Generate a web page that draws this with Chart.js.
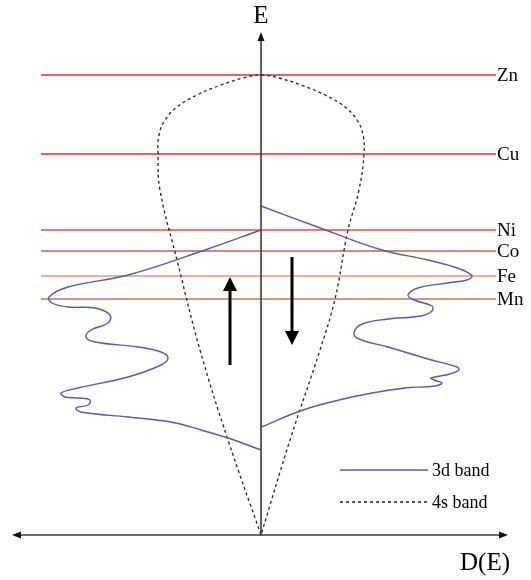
<!DOCTYPE html>
<html>
<head>
<meta charset="utf-8">
<script src="https://cdn.jsdelivr.net/npm/chart.js@4.4.0/dist/chart.umd.min.js"></script>
<style>
  html, body { margin: 0; padding: 0; background: #fff; }
  #dos { display: block; }
</style>
</head>
<body>
<canvas id="dos" width="531" height="580"></canvas>
<script>
//////////////////
// Levels of the transition metals (energy, arbitrary units)

var levelNames = ['Zn', 'Cu', 'Ni', 'Co', 'Fe', 'Mn'];
var levelEnergy = [460, 381, 305, 284, 259, 236];
var levelColors = ['#e06666', '#e06666', '#d0564e', '#b86a50', '#d99c80', '#c27860'];
var levelFrom = -220;
var levelTo = 235;

// 4s band: from the origin up the left side, over the top, back down
var band4sD = [0, -33, -61, -84, -101, -103, -102, -96, -84, -64, -40, -18, 0, 18, 40, 64, 84, 96, 102, 103, 98, 87, 74, 59, 29, 0];
var band4sE = [0, 95, 185, 275, 345, 381, 400, 415, 428, 440, 450, 457, 460, 457, 450, 440, 428, 415, 400, 381, 345, 305, 236, 185, 95, 0];

// 3d band, spin up (left half)
var band3dUpD = [0, -56, -133, -193, -212, -209, -193, -166, -151, -153, -170, -175, -166, -123, -100, -93, -100, -133, -183, -200, -196, -183, -171, -173, -185, -180, -133, -90, -60, -33, 0];
var band3dUpE = [305, 285, 260, 248, 238, 232, 228, 227, 220, 212, 205, 198, 193, 188, 183, 177, 170, 158, 147, 142, 138, 137, 135, 130, 127, 123, 118, 113, 105, 97, 85];

// 3d band, spin down (right half)
var band3dDownD = [0, 62, 121, 167, 199, 211, 206, 186, 157, 147, 153, 171, 171, 160, 127, 101, 93, 98, 127, 167, 196, 198, 189, 170, 173, 181, 174, 144, 111, 78, 42, 0];
var band3dDownE = [329, 306, 285, 275, 266, 259, 255, 252, 247, 240, 235, 229, 224, 219, 216, 211, 202, 196, 188, 176, 168, 165, 161, 157, 155, 152, 149, 147, 142, 135, 125, 108];

// spin arrows: position and energy range (tail -> head)
var spinD = [-31, 31];
var spinFrom = [170, 278];
var spinTo = [258, 190];

var color3d = '#5a5aa8';
var color4s = '#222222';
var serif = '"Liberation Serif", "DejaVu Serif", serif';

function toPoints(ds, es) {
  return ds.map(function (d, i) { return { x: d, y: es[i] }; });
}

var datasets = [
  { label: '3d band', data: toPoints(band3dUpD, band3dUpE), borderColor: color3d, borderWidth: 1.4, tension: 0.4 },
  { label: '3d band', data: toPoints(band3dDownD, band3dDownE), borderColor: color3d, borderWidth: 1.4, tension: 0.4 },
  { label: '4s band', data: toPoints(band4sD, band4sE), borderColor: color4s, borderWidth: 1.3, borderDash: [3, 3], tension: 0.4 }
];
levelNames.forEach(function (name, i) {
  datasets.push({
    label: name,
    data: [{ x: levelFrom, y: levelEnergy[i] }, { x: levelTo, y: levelEnergy[i] }],
    borderColor: levelColors[i],
    borderWidth: i < 2 ? 1.8 : 1.4,
    tension: 0
  });
});
datasets.forEach(function (ds) {
  ds.showLine = true;
  ds.pointRadius = 0;
  ds.fill = false;
});

function arrowHead(ctx, x, y, dx, dy, len, half) {
  // dx, dy: unit direction the arrow points to
  ctx.beginPath();
  ctx.moveTo(x, y);
  ctx.lineTo(x - dx * len - dy * half, y - dy * len + dx * half);
  ctx.lineTo(x - dx * len + dy * half, y - dy * len - dx * half);
  ctx.closePath();
  ctx.fill();
}

// axes, level names, spin arrows and the key
var decorations = {
  id: 'decorations',
  afterDatasetsDraw: function (chart) {
    var ctx = chart.ctx;
    var xs = chart.scales.x, ys = chart.scales.y;
    var x0 = xs.getPixelForValue(0), y0 = ys.getPixelForValue(0);
    ctx.save();

    // axes
    ctx.strokeStyle = '#3a3a3a';
    ctx.fillStyle = '#111';
    ctx.lineWidth = 1.6;
    var left = xs.getPixelForValue(-249), right = xs.getPixelForValue(247), top = ys.getPixelForValue(503);
    ctx.beginPath();
    ctx.moveTo(left + 6, y0); ctx.lineTo(right - 6, y0);
    ctx.moveTo(x0, y0); ctx.lineTo(x0, top + 6);
    ctx.stroke();
    arrowHead(ctx, right, y0, 1, 0, 9, 3.5);
    arrowHead(ctx, left, y0, -1, 0, 9, 3.5);
    arrowHead(ctx, x0, top, 0, -1, 9, 3.5);

    ctx.fillStyle = '#000';
    ctx.font = '25px ' + serif;
    ctx.textAlign = 'center';
    ctx.textBaseline = 'middle';
    ctx.fillText('E', x0, 16);
    ctx.textAlign = 'right';
    ctx.fillText('D(E)', right + 2, 563);

    // level names
    ctx.font = '19px ' + serif;
    ctx.textAlign = 'left';
    levelNames.forEach(function (name, i) {
      ctx.fillText(name, xs.getPixelForValue(levelTo) + 1, ys.getPixelForValue(levelEnergy[i]) + 1);
    });

    // spin arrows
    ctx.strokeStyle = '#000';
    ctx.fillStyle = '#000';
    ctx.lineWidth = 3;
    spinD.forEach(function (d, i) {
      var px = xs.getPixelForValue(d);
      var ya = ys.getPixelForValue(spinFrom[i]), yb = ys.getPixelForValue(spinTo[i]);
      var dir = yb < ya ? -1 : 1;
      ctx.beginPath();
      ctx.moveTo(px, ya);
      ctx.lineTo(px, yb - dir * 10);
      ctx.stroke();
      arrowHead(ctx, px, yb, 0, dir, 14, 7);
    });

    // key
    var keys = [chart.data.datasets[0], chart.data.datasets[2]];
    ctx.font = '18px ' + serif;
    keys.forEach(function (ds, i) {
      var ky = 470 + i * 32;
      ctx.strokeStyle = ds.borderColor;
      ctx.lineWidth = ds.borderWidth;
      ctx.setLineDash(ds.borderDash || []);
      ctx.beginPath();
      ctx.moveTo(340, ky); ctx.lineTo(428, ky);
      ctx.stroke();
      ctx.setLineDash([]);
      ctx.fillStyle = '#000';
      ctx.fillText(ds.label, 432, ky + 1);
    });

    ctx.restore();
  }
};

var ctxDos = document.getElementById('dos').getContext('2d');
var chartDos = new Chart(ctxDos, {
  type: 'scatter',
  data: { datasets: datasets },
  options: {
    responsive: false,
    animation: false,
    events: [],
    layout: { padding: 0 },
    plugins: { legend: { display: false }, tooltip: { enabled: false } },
    scales: {
      x: { type: 'linear', min: -261, max: 270, display: false },
      y: { type: 'linear', min: -45, max: 535, display: false }
    }
  },
  plugins: [decorations]
});
</script>
</body>
</html>
